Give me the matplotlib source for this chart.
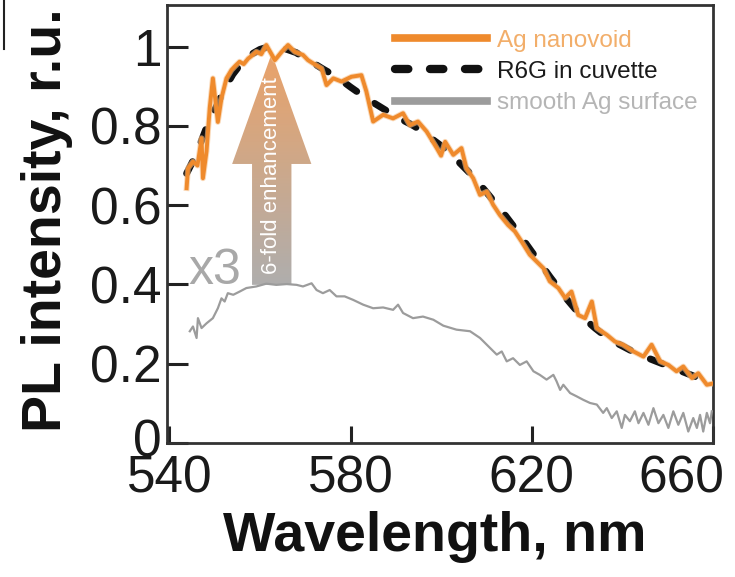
import numpy as np
import matplotlib
matplotlib.use("Agg")
import matplotlib.pyplot as plt
from matplotlib.lines import Line2D
from matplotlib.patches import FancyArrow
from matplotlib.transforms import ScaledTranslation

plt.rcParams['font.family'] = ['Liberation Sans', 'DejaVu Sans']

# ---------------- data ----------------
wl_nanovoid = [543.8, 544.1, 545.2, 546.2, 547.1, 547.4, 548.2, 548.9, 549.6, 550.7,
               551.5, 552.6, 553.7, 554.6, 555.5, 556.4, 557.4, 558.3, 559.2, 560.3,
               561.4, 563.3, 564.8, 566.2, 567.7, 569.5, 570.6, 571.7, 573.6, 574.7,
               576.2, 578.0, 580.2, 582.4, 583.5, 585.0, 587.2, 589.4, 591.6, 593.1,
               594.9, 596.8, 599.0, 600.0, 600.9, 602.7, 604.5, 605.6, 607.1, 608.6,
               610.1, 611.5, 613.0, 614.8, 616.3, 617.8, 619.6, 621.1, 622.6, 624.0,
               625.9, 627.4, 628.8, 630.3, 631.8, 633.3, 634.4, 636.6, 638.4, 640.2,
               642.5, 644.7, 646.5, 648.4, 650.2, 652.0, 653.5, 655.4, 656.8, 658.7,
               660.0]
pl_nanovoid = [0.643, 0.693, 0.710, 0.700, 0.769, 0.668, 0.736, 0.845, 0.920, 0.810,
               0.870, 0.920, 0.941, 0.952, 0.962, 0.956, 0.970, 0.978, 0.987, 0.981,
               1.004, 0.966, 0.987, 1.004, 0.987, 0.979, 0.966, 0.958, 0.945, 0.903,
               0.920, 0.912, 0.924, 0.928, 0.887, 0.811, 0.828, 0.819, 0.832, 0.802,
               0.811, 0.786, 0.745, 0.725, 0.760, 0.727, 0.744, 0.693, 0.668, 0.626,
               0.634, 0.601, 0.575, 0.550, 0.534, 0.508, 0.475, 0.458, 0.441, 0.408,
               0.391, 0.366, 0.382, 0.323, 0.315, 0.357, 0.290, 0.273, 0.256, 0.248,
               0.231, 0.218, 0.248, 0.206, 0.197, 0.181, 0.193, 0.164, 0.176, 0.147,
               0.150]

wl_r6g = [543.8, 546, 548, 550, 552, 554, 556, 558, 560, 562, 564, 566, 568, 570,
          572, 574, 576, 578, 580, 582, 584, 586, 588, 590, 592, 594, 596, 598, 600,
          602, 604, 606, 608, 610, 612, 614, 616, 618, 620, 622, 624, 626, 628, 630,
          632, 634, 636, 638, 640, 642, 644, 646, 648, 650, 652, 654, 656, 658, 660]
pl_r6g = [0.68, 0.73, 0.79, 0.84, 0.89, 0.93, 0.96, 0.98, 0.993, 1.0, 0.998, 0.993,
          0.985, 0.97, 0.957, 0.943, 0.93, 0.915, 0.898, 0.882, 0.866, 0.852, 0.838,
          0.825, 0.812, 0.80, 0.785, 0.767, 0.75, 0.73, 0.708, 0.685, 0.66, 0.633,
          0.605, 0.577, 0.547, 0.515, 0.483, 0.452, 0.42, 0.39, 0.36, 0.333, 0.31,
          0.29, 0.272, 0.257, 0.245, 0.233, 0.223, 0.213, 0.204, 0.195, 0.186, 0.177,
          0.168, 0.157, 0.147]

wl_smooth = [544.5, 545.2, 546.0, 546.3, 547.1, 548.2, 549.6, 550.7, 551.5, 552.2,
             552.9, 554.1, 555.5, 557.0, 559.2, 561.4, 563.6, 565.9, 568.1, 569.5,
             571.4, 572.5, 573.9, 575.4, 576.9, 578.7, 580.6, 582.8, 585.0, 587.2,
             589.4, 590.5, 591.6, 593.8, 596.0, 598.3, 600.5, 603.4, 606.4, 608.6,
             610.8, 612.3, 613.4, 614.5, 615.9, 617.4, 618.9, 620.4, 621.8, 623.3,
             624.8, 625.5, 626.3, 627.0, 628.5, 629.9, 631.4, 632.9, 634.4, 635.8,
             636.6, 637.7, 638.8, 639.9, 640.6, 641.7, 642.8, 643.6, 644.7, 645.8,
             646.9, 648.0, 649.1, 650.2, 651.3, 652.4, 653.5, 654.6, 655.7, 656.5,
             657.2, 657.9, 658.7, 659.4, 659.8]
pl_smooth = [0.282, 0.294, 0.265, 0.315, 0.290, 0.302, 0.315, 0.340, 0.365, 0.357,
             0.378, 0.374, 0.382, 0.391, 0.395, 0.402, 0.399, 0.401, 0.399, 0.395,
             0.403, 0.386, 0.378, 0.386, 0.370, 0.370, 0.361, 0.349, 0.340, 0.342,
             0.336, 0.349, 0.328, 0.315, 0.319, 0.311, 0.296, 0.286, 0.282, 0.265,
             0.240, 0.223, 0.231, 0.206, 0.214, 0.197, 0.206, 0.181, 0.172, 0.160,
             0.172, 0.156, 0.134, 0.147, 0.126, 0.118, 0.109, 0.101, 0.097, 0.076,
             0.088, 0.063, 0.080, 0.038, 0.071, 0.055, 0.080, 0.050, 0.076, 0.046,
             0.088, 0.050, 0.071, 0.038, 0.080, 0.046, 0.076, 0.029, 0.063, 0.038,
             0.071, 0.029, 0.076, 0.050, 0.080]

series_labels = ["Ag nanovoid", "R6G in cuvette", "smooth Ag surface"]
x_ticks = [540, 580, 620, 660]
y_ticks = [0, 0.2, 0.4, 0.6, 0.8, 1.0]
y_tick_labels = ["0", "0.2", "0.4", "0.6", "0.8", "1"]
arrow_label = "6-fold enhancement"
scale_label = "x3"

# ---------------- styles ----------------
c_orange = '#EF8A2C'
c_gray = '#9C9C9C'
c_black = '#111111'

fig = plt.figure(figsize=(7.35, 5.77), dpi=100)
ax = fig.add_axes([0.2268, 0.2322, 0.7429, 0.7591])

ax.plot(wl_r6g, pl_r6g, color=c_black, lw=5, dashes=(1.9, 3.1),
        dash_capstyle='round', zorder=3)
ax.plot(wl_nanovoid, pl_nanovoid, color='#F7C08A', lw=4.2, zorder=4,
        solid_joinstyle='round', alpha=0.6)
ax.plot(wl_nanovoid, pl_nanovoid, color=c_orange, lw=2.8, zorder=4,
        solid_joinstyle='round')
ax.plot(wl_smooth, pl_smooth, color=c_gray, lw=1.6, zorder=3)

# gradient arrow
x0, y0, y1 = 562.6, 0.399, 0.983
arrow = FancyArrow(x0, y0, 0, y1 - y0, width=8.7, head_width=17.5,
                   head_length=0.279, length_includes_head=True,
                   facecolor='none', edgecolor='none', zorder=2)
ax.add_patch(arrow)
n = 200
t = np.linspace(0, 1, n)[:, None]
bottom = np.array([166, 165, 164]) / 255
top = np.array([232, 152, 88]) / 255
grad = (bottom[None, :] * (1 - t) + top[None, :] * t)[:, None, :]
im = ax.imshow(grad, extent=[x0 - 8.75, x0 + 8.75, y0, y1], origin='lower',
               aspect='auto', zorder=2, alpha=0.9, interpolation='bilinear')
im.set_clip_path(arrow)
ax.text(x0, 0.675, arrow_label, rotation=90, color='white', ha='center',
        va='center', fontsize=16, zorder=5)
ax.text(550.0, 0.433, scale_label, color='#A8A8A8', fontsize=36,
        ha='center', va='center', zorder=5)

ax.set_xlim(539.4, 660)
ax.set_ylim(0, 1.105)

# axes styling
for s in ax.spines.values():
    s.set_linewidth(2.0)
    s.set_color('#333333')
ax.set_xticks(x_ticks)
ax.set_yticks(y_ticks)
ax.set_yticklabels(y_tick_labels)
ax.tick_params(axis='both', direction='in', width=2.2, color='#222222',
               labelsize=37, labelcolor='#1a1a1a')
ax.tick_params(axis='y', length=15, pad=4)
ax.tick_params(axis='x', length=12, pad=8)
lbl = ax.get_xticklabels()[-1]
lbl.set_transform(lbl.get_transform() + ScaledTranslation(-0.31, 0, fig.dpi_scale_trans))
lbl0 = ax.get_yticklabels()[0]
lbl0.set_transform(lbl0.get_transform() + ScaledTranslation(0, 0.06, fig.dpi_scale_trans))

ax.set_xlabel("Wavelength, nm", fontsize=40, fontweight='bold', color='#111111')
ax.set_ylabel("PL intensity, r.u.", fontsize=40, fontweight='bold', color='#111111')
ax.xaxis.set_label_coords(0.491, -0.155)
ax.yaxis.set_label_coords(-0.172, 0.51)

# legend
handles = [Line2D([], [], color=c_orange, lw=5.5),
           Line2D([], [], color=c_black, lw=6, dashes=(1.6, 2.6), dash_capstyle='round'),
           Line2D([], [], color=c_gray, lw=5.5)]
leg = ax.legend(handles, series_labels, loc='upper left',
                bbox_to_anchor=(0.418, 0.944), frameon=False, fontsize=17.5,
                handlelength=3.8, handletextpad=0.4, labelspacing=0.38,
                borderpad=0, borderaxespad=0)
for txt, col in zip(leg.get_texts(), ['#F2AE6A', '#1a1a1a', '#B5B5B5']):
    txt.set_color(col)

# fragments of adjacent panels at the image edges
fig.add_artist(Line2D([0.006, 0.006], [1.0, 0.915], color='#222222', lw=1.5))

fig.savefig("out.png", dpi=100)
